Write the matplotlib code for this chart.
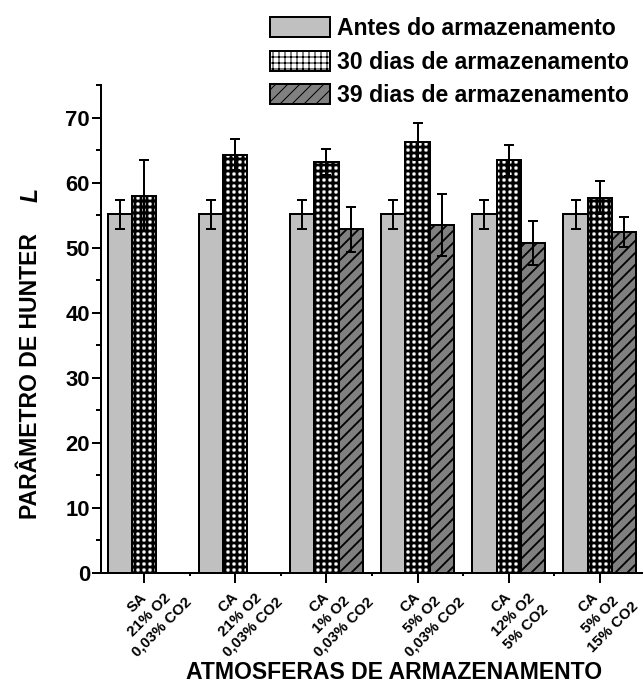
import numpy as np
import matplotlib
matplotlib.use("Agg")
import matplotlib.pyplot as plt
from matplotlib.patches import Patch
from matplotlib.ticker import MultipleLocator

plt.rcParams['font.family'] = ['Liberation Sans', 'DejaVu Sans']
plt.rcParams['font.weight'] = 'bold'

# ---- data ----
categories = ["SA\n21% O2\n0,03% CO2",
              "CA\n21% O2\n0,03% CO2",
              "CA\n1% O2\n0,03% CO2",
              "CA\n5% O2\n0,03% CO2",
              "CA\n12% O2\n5% CO2",
              "CA\n5% O2\n15% CO2"]
series_names = ["Antes do armazenamento",
                "30 dias de armazenamento",
                "39 dias de armazenamento"]
antes = [55.1, 55.1, 55.1, 55.1, 55.1, 55.1]
antes_err = [2.2, 2.2, 2.2, 2.2, 2.2, 2.2]
dias30 = [58.0, 64.3, 63.1, 66.3, 63.4, 57.7]
dias30_err = [5.4, 2.4, 2.0, 2.9, 2.4, 2.5]
dias39 = [None, None, 52.8, 53.5, 50.7, 52.4]
dias39_err = [None, None, 3.5, 4.8, 3.4, 2.3]
yticks = [0, 10, 20, 30, 40, 50, 60, 70]

W, H, DPI = 643, 684, 72
fig = plt.figure(figsize=(W / DPI, H / DPI), dpi=DPI)
ax = fig.add_axes([101 / W, 1 - 573 / H, (643 - 101) / W, (573 - 85) / H])

x = np.arange(1, len(categories) + 1)
bw = 0.266

styles = [dict(color="#c0c0c0", hatch=None, hlw=1.8),
          dict(color="white", hatch="++", hlw=2.8),
          dict(color="#808080", hatch="//", hlw=1.8)]
data = [(antes, antes_err), (dias30, dias30_err), (dias39, dias39_err)]
offsets = [-bw, 0, bw]

for (vals, errs), st, off in zip(data, styles, offsets):
    xs = [xi + off for xi, v in zip(x, vals) if v is not None]
    vs = [v for v in vals if v is not None]
    es = [e for e, v in zip(errs, vals) if v is not None]
    with plt.rc_context({'hatch.linewidth': st["hlw"]}):
        ax.bar(xs, vs, width=bw, color=st["color"], hatch=st["hatch"],
               edgecolor="black", linewidth=2, zorder=2)
    ax.errorbar(xs, vs, yerr=es, fmt="none", ecolor="black",
                elinewidth=2, capsize=5, capthick=2, zorder=3)

ax.set_xlim(0.525, 6.475)
ax.set_ylim(0, 75)

for s in ["top", "right"]:
    ax.spines[s].set_visible(False)
for s in ["left", "bottom"]:
    ax.spines[s].set_linewidth(2)

ax.set_yticks(yticks)
ax.yaxis.set_minor_locator(MultipleLocator(5))
ax.tick_params(axis="y", which="major", direction="out", length=9, width=2,
               pad=2, labelsize=22)
ax.tick_params(axis="y", which="minor", direction="out", length=5, width=2)
for lab in ax.get_yticklabels():
    lab.set_fontweight("bold")

ax.set_xticks(x)
ax.set_xticks(x[:-1] + 0.5, minor=True)
ax.set_xticklabels([""] * len(x))
ax.tick_params(axis="x", which="major", direction="out", length=10, width=2)
ax.tick_params(axis="x", which="minor", direction="out", length=3, width=2)

for i, (xi, lab) in enumerate(zip(x, categories)):
    dx = 5 if i < len(x) - 1 else 1
    ax.annotate(lab, xy=(xi, 0), xycoords=("data", "axes fraction"),
                xytext=(dx, -42), textcoords="offset points",
                rotation=45, ha="center", va="center",
                multialignment="center", linespacing=1.3,
                fontsize=15, fontweight="bold",
                annotation_clip=False)

fig.text(394 / W, 1 - 679 / H, "ATMOSFERAS DE ARMAZENAMENTO", ha="center",
         va="baseline", fontsize=23, fontweight="bold")
fig.text(31 / W, 1 - 376 / H, "PARÂMETRO DE HUNTER", rotation=90,
         ha="center", va="center", fontsize=23, fontweight="bold")
fig.text(31 / W, 1 - 195 / H, "L", rotation=90, ha="center", va="center",
         fontsize=23, fontweight="bold", fontstyle="italic")

handles = []
for st in styles:
    with plt.rc_context({'hatch.linewidth': st["hlw"]}):
        handles.append(Patch(facecolor=st["color"], hatch=st["hatch"],
                             edgecolor="black", linewidth=2))
fig.legend(handles, series_names, loc="upper left",
           bbox_to_anchor=(270 / W, 1 - 17 / H), frameon=False,
           prop=dict(weight="bold", size=23),
           handlelength=2.6, handleheight=0.96, handletextpad=0.3,
           labelspacing=0.46, borderpad=0, borderaxespad=0)

fig.savefig("out.png", dpi=DPI)
